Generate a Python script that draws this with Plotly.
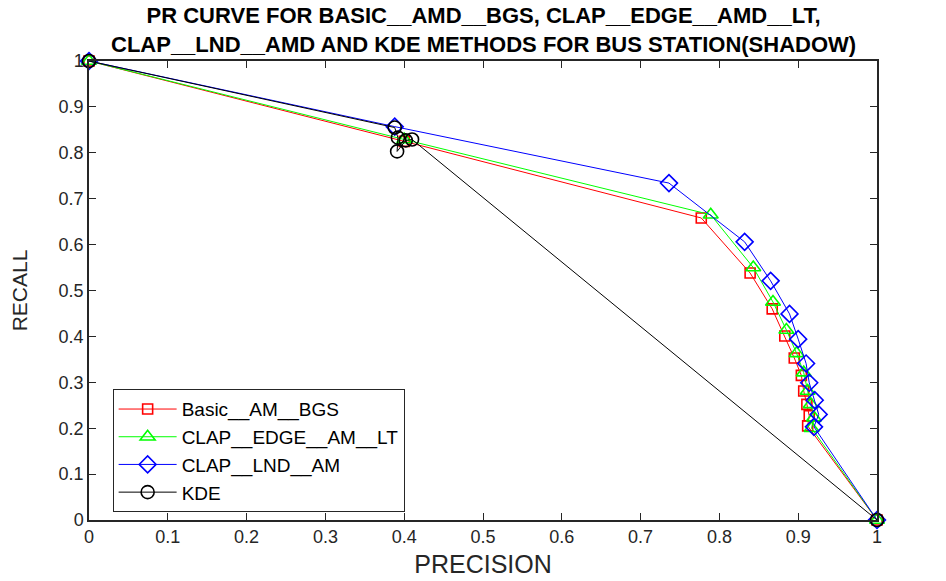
import plotly.graph_objects as go

basic_p = [0.0, 0.400, 0.777, 0.839, 0.867, 0.883, 0.895, 0.904, 0.907, 0.911, 0.914, 0.912, 1.0]
basic_r = [1.0, 0.825, 0.658, 0.538, 0.460, 0.401, 0.353, 0.315, 0.281, 0.252, 0.227, 0.205, 0.0]

edge_p = [0.0, 0.400, 0.789, 0.843, 0.868, 0.885, 0.898, 0.907, 0.912, 0.916, 0.920, 0.917, 1.0]
edge_r = [1.0, 0.829, 0.665, 0.550, 0.475, 0.414, 0.363, 0.321, 0.281, 0.252, 0.223, 0.200, 0.0]

lnd_p = [0.0, 0.388, 0.736, 0.832, 0.865, 0.889, 0.900, 0.910, 0.914, 0.921, 0.926, 0.920, 1.0]
lnd_r = [1.0, 0.857, 0.734, 0.606, 0.521, 0.449, 0.394, 0.341, 0.299, 0.261, 0.230, 0.203, 0.0]

kde_p = [0.0, 0.388, 0.392, 0.391, 0.402, 0.410, 1.0]
kde_r = [1.0, 0.855, 0.833, 0.803, 0.827, 0.829, 0.0]

names = ["Basic__AM__BGS", "CLAP__EDGE__AM__LT", "CLAP__LND__AM", "KDE"]
ticks = [0, 0.1, 0.2, 0.3, 0.4, 0.5, 0.6, 0.7, 0.8, 0.9, 1]
tick_text = ["0", "0.1", "0.2", "0.3", "0.4", "0.5", "0.6", "0.7", "0.8", "0.9", "1"]
title_text = ("PR CURVE FOR BASIC__AMD__BGS, CLAP__EDGE__AMD__LT,<br>"
              "CLAP__LND__AMD AND KDE METHODS FOR BUS STATION(SHADOW)")

series = [
    (basic_p, basic_r, "#ff0000", "square-open", 10),
    (edge_p, edge_r, "#00ff00", "triangle-up-open", 13),
    (lnd_p, lnd_r, "#0000ff", "diamond-open", 13),
    (kde_p, kde_r, "#000000", "circle-open", 13),
]

fig = go.Figure()
for (px, ry, col, sym, sz), nm in zip(series, names):
    fig.add_trace(go.Scatter(
        x=px, y=ry, mode="lines+markers", name=nm,
        line=dict(color=col, width=1),
        marker=dict(symbol=sym, size=sz, color=col, line=dict(color=col, width=1.6)),
        cliponaxis=False,
    ))

axis_common = dict(
    range=[0, 1], tickvals=ticks, ticktext=tick_text, automargin=False,
    showgrid=False, zeroline=False, showline=True, mirror="ticks",
    linecolor="#262626", linewidth=1.5, ticks="inside", ticklen=7,
    tickcolor="#262626", tickfont=dict(family="Liberation Sans, Arial", size=18, color="#262626"),
)

fig.update_layout(
    width=946, height=581,
    margin=dict(l=81, r=77, t=53, b=69),
    paper_bgcolor="white", plot_bgcolor="white",
    xaxis=dict(axis_common, title=dict(text="PRECISION", font=dict(family="Liberation Sans, Arial", size=25, color="#262626"), standoff=9)),
    yaxis=dict(axis_common, title=dict(text="RECALL", font=dict(family="Liberation Sans, Arial", size=21, color="#262626"), standoff=26)),
    legend=dict(
        x=0.030, y=0.285, xanchor="left", yanchor="top",
        bgcolor="white", bordercolor="#262626", borderwidth=1,
        font=dict(family="Liberation Sans, Arial", size=19, color="black"),
        tracegroupgap=0, itemwidth=58,
    ),
    showlegend=True,
    annotations=[dict(
        text=title_text, x=0.5, xref="paper", y=1, yref="paper",
        xanchor="center", yanchor="bottom", yshift=2, showarrow=False,
        font=dict(family="Liberation Sans, Arial", size=22, color="black", weight="bold"),
    )],
)

fig.write_html("out.html")
